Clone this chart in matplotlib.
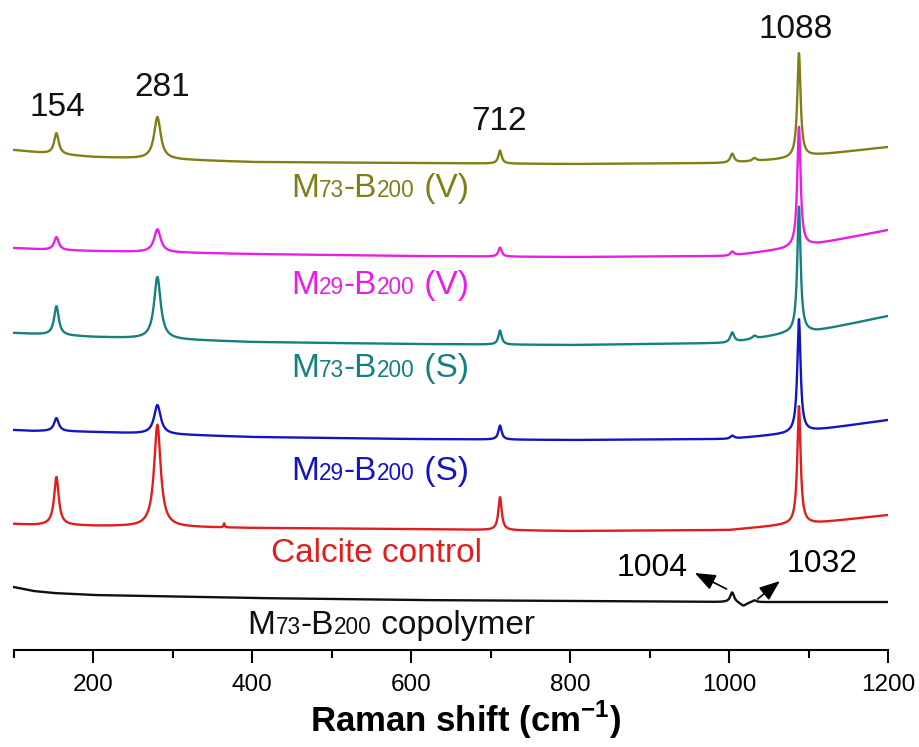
import numpy as np
import matplotlib
matplotlib.use("Agg")
import matplotlib.pyplot as plt
from matplotlib.transforms import IdentityTransform

plt.rcParams["font.family"] = ["Liberation Sans", "DejaVu Sans"]
plt.rcParams["mathtext.fontset"] = "custom"
plt.rcParams["mathtext.rm"] = "Liberation Sans"
plt.rcParams["mathtext.bf"] = "Liberation Sans:bold"

# baseline knots (Raman shift, cm-1) and stacked baseline intensity (a.u.) per spectrum
base_x = [100, 125, 150, 200, 400, 600, 800, 1000, 1070, 1110, 1200]
base_m73_v = [597, 595, 593, 590, 585, 584, 583, 584, 588, 592, 600]
base_m29_v = [499, 498, 497, 496, 493, 491, 490, 491, 498, 503, 517]
base_m73_s = [414, 413, 412, 410, 405, 403, 402, 404, 413, 416, 431]
base_m29_s = [317, 316, 316, 315, 310, 308, 307, 308, 313, 317, 327]
base_calcite = [223, 222, 222, 221, 219, 218, 216, 217, 222, 224, 232]
base_copoly = [160, 156, 154, 152, 149, 147, 146, 145, 145, 145, 145]

# bands: position, half width, then peak height for each spectrum
band_pos = [154, 281, 365, 712, 1004, 1018, 1032, 1088]
band_hwhm = [3.5, 5.0, 0.8, 2.5, 3.0, 5.0, 3.0, 2.5]
peaks_m73_v = [21, 42, 0, 13, 9, 0, 3, 104]
peaks_m29_v = [13, 23, 0, 9, 4, 0, 0, 120]
peaks_m73_s = [29, 62, 0, 14, 10, 0, 3, 126]
peaks_m29_s = [13, 29, 0, 14, 3, 0, 0, 113]
peaks_calcite = [48, 102, 4, 33, 0, 0, 0, 118]
peaks_copoly = [0, 0, 0, 0, 10, -4, 2, 0]

names = [
    [("M", 0), ("73", 1), ("-B", 0), ("200", 1), (" (V)", 0)],
    [("M", 0), ("29", 1), ("-B", 0), ("200", 1), (" (V)", 0)],
    [("M", 0), ("73", 1), ("-B", 0), ("200", 1), (" (S)", 0)],
    [("M", 0), ("29", 1), ("-B", 0), ("200", 1), (" (S)", 0)],
    [("Calcite control", 0)],
    [("M", 0), ("73", 1), ("-B", 0), ("200", 1), (" copolymer", 0)],
]
colors = ["#7f7f16", "#e81ee8", "#168080", "#1414c0", "#e01e1e", "#101010"]
name_x = [561, 561, 561, 561, 556, 575]
name_y = [562, 465, 382, 279, 197, 125]

bases = [base_m73_v, base_m29_v, base_m73_s, base_m29_s, base_calcite, base_copoly]
peaks = [peaks_m73_v, peaks_m29_v, peaks_m73_s, peaks_m29_s, peaks_calcite, peaks_copoly]

mark_text = ["154", "281", "712", "1088"]
mark_x = [155, 287, 711, 1084]
mark_y = [640, 659, 626, 717]

fig = plt.figure(figsize=(9.2, 7.47), dpi=100)
ax = fig.add_axes([13.5 / 920, 97 / 747, 874.5 / 920, 650 / 747])
ax.set_xlim(100, 1200)
ax.set_ylim(97, 747)

x = np.arange(100, 1200.25, 0.25)


def spectrum(base, heights):
    y = np.interp(x, base_x, base)
    for p, w, h in zip(band_pos, band_hwhm, heights):
        y = y + h * w**2 / ((x - p) ** 2 + w**2)
    return y


for i, (b, h, c) in enumerate(zip(bases, peaks, colors)):
    ax.plot(x, spectrum(b, h), color=c, lw=1.7, zorder=2 + i)


def sub_label(xc, yc, parts, color, size=24):
    r = fig.canvas.get_renderer()
    X, Y = ax.transData.transform((xc, yc))
    Y -= 0.36 * size * fig.dpi / 72
    items = []
    for s, small in parts:
        t = fig.text(0, 0, s, fontsize=size * (0.68 if small else 1.0), color=color,
                     va="baseline", ha="left", transform=IdentityTransform())
        items.append(t)
    widths = [t.get_window_extent(r).width for t in items]
    x0 = X - sum(widths) / 2
    for t, w in zip(items, widths):
        t.set_position((x0, Y))
        x0 += w


for parts, c, lx, ly in zip(names, colors, name_x, name_y):
    sub_label(lx, ly, parts, c)

for t, mx, my in zip(mark_text, mark_x, mark_y):
    ax.text(mx, my, t, fontsize=24, ha="center", va="center", color="#111111")

arrow = dict(arrowstyle="-|>,head_length=0.9,head_width=0.35", color="black", lw=1.2,
             shrinkA=0, shrinkB=0, mutation_scale=14)
ax.annotate("", xy=(957, 174), xytext=(997, 158), arrowprops=arrow)
ax.annotate("", xy=(1064, 166), xytext=(1036, 148), arrowprops=arrow)
ax.text(904, 179, "1004", fontsize=23, ha="center", va="center")
ax.text(1117, 183, "1032", fontsize=23, ha="center", va="center")

ax.set_yticks([])
for s in ["left", "right", "top"]:
    ax.spines[s].set_visible(False)
ax.spines["bottom"].set_linewidth(1.5)
ax.set_xticks([200, 400, 600, 800, 1000, 1200])
ax.set_xticks(np.arange(100, 1200, 200), minor=True)
ax.tick_params(axis="x", which="major", direction="out", length=9.5, width=1.5,
               labelsize=17.5, pad=8)
ax.tick_params(axis="x", which="minor", direction="out", length=6, width=1.5)
ax.set_xlabel(r"Raman shift (cm$^{\mathbf{-1}}$)", fontsize=25, fontweight="bold", va="center")
ax.xaxis.set_label_coords(0.517, -0.108)
ax.patch.set_alpha(0)

fig.savefig("out.png", dpi=100)
